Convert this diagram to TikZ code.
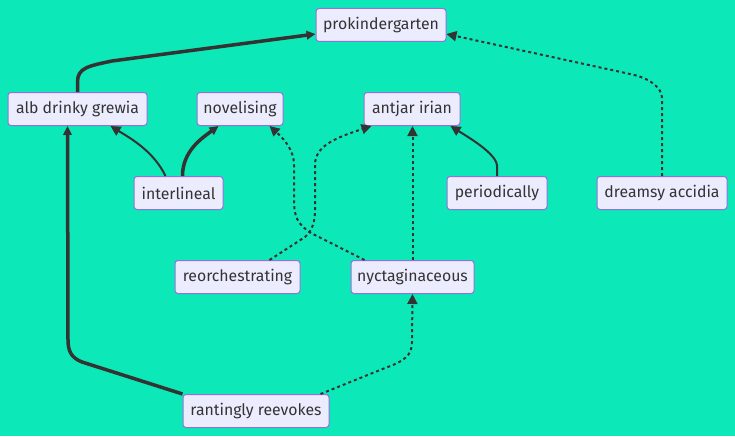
\documentclass[tikz,border=0pt]{standalone}
\usepackage{fontspec}
\setmainfont{Fira Sans}
\usetikzlibrary{arrows.meta,calc}
\definecolor{bg}{HTML}{0CE8B8}
\definecolor{nodefill}{HTML}{ECECFF}
\definecolor{nodeline}{HTML}{9370DB}
\definecolor{ink}{HTML}{333333}
\tikzset{
  box/.style={draw=nodeline, fill=nodefill, line width=1pt, rounded corners=3pt,
    minimum height=33pt, inner sep=0pt, text=ink, font=\fontsize{15.8}{18}\selectfont},
  edge/.style={draw=ink, line width=2pt, -{Triangle[length=10pt,width=10pt]}},
  thickedge/.style={edge, line width=3.5pt, -{Triangle[length=9pt,width=8.5pt]}},
  dotedge/.style={edge, dash pattern=on 3pt off 3pt}
}
\begin{document}
\begin{tikzpicture}[x=1pt,y=-1pt]
\fill[bg] (0,0) rectangle (735,436);
\useasboundingbox (0,0) rectangle (735,436);

\node[box, minimum width=130pt] (prok) at (381,25) {prokindergarten};
\node[box, minimum width=139pt] (alb) at (77.5,109) {alb drinky grewia};
\node[box, minimum width=86pt] (nov) at (240,109) {novelising};
\node[box, minimum width=96pt] (ant) at (412,109) {antjar irian};
\node[box, minimum width=89pt] (inter) at (178.5,193) {interlineal};
\node[box, minimum width=100pt] (per) at (497,193) {periodically};
\node[box, minimum width=130pt] (dre) at (662,193) {dreamsy accidia};
\node[box, minimum width=125pt] (reo) at (237.5,277) {reorchestrating};
\node[box, minimum width=123pt] (nyc) at (412.5,277) {nyctaginaceous};
\node[box, minimum width=146pt] (ran) at (256,411) {rantingly reevokes};

% alb -> prok
\draw[thickedge] (alb.north) -- ++(0,-10) .. controls +(0,-14) and (88,66) .. (112,61) -- ($(prok.west)+(0,9)$);
% dreamsy -> prok
\draw[dotedge] (dre.north) -- ++(0,-78) .. controls +(0,-10) and (650,78) .. (630,74) -- ($(prok.east)+(0,9)$);
% interlineal -> alb
\draw[edge] ($(inter.north)+(-13,0)$) .. controls +(-12,-25) and (130,138) .. ($(alb.south east)+(-37,0)$);
% interlineal -> novelising
\draw[thickedge] ($(inter.north)+(4,0)$) .. controls +(0,-25) and (202,138) .. ($(nov.south west)+(22,0)$);
% nyct -> novelising
\draw[dotedge] ($(nyc.north west)+(14,0)$) -- (311,233) .. controls (297,224) and (294,216) .. (294,200) -- (294,165) .. controls (294,150) and (284,139) .. ($(nov.south east)+(-14,0)$);
% reorch -> antjar
\draw[dotedge] ($(reo.north)+(32,0)$) -- (305,237) .. controls (312,231) and (315,222) .. (315,210) -- (315,165) .. controls (315,146) and (335,138) .. ($(ant.south west)+(8,0)$);
% nyct -> antjar
\draw[dotedge] (nyc.north) -- (nyc.north |- ant.south);
% periodically -> antjar
\draw[edge] (per.north) -- ++(0,-10) .. controls +(0,-12) and (468,137) .. ($(ant.south east)+(-10,0)$);
% rantingly -> alb
\draw[thickedge] (ran.north west) -- (82,362) .. controls (72,358) and (68,352) .. (68,340) -- ($(alb.south west)+(60,0)$);
% rantingly -> nyct
\draw[dotedge] ($(ran.north east)+(-9,0)$) -- (385,368) .. controls (405,361) and (412,355) .. (412,342) -- (nyc.south);
\end{tikzpicture}
\end{document}
